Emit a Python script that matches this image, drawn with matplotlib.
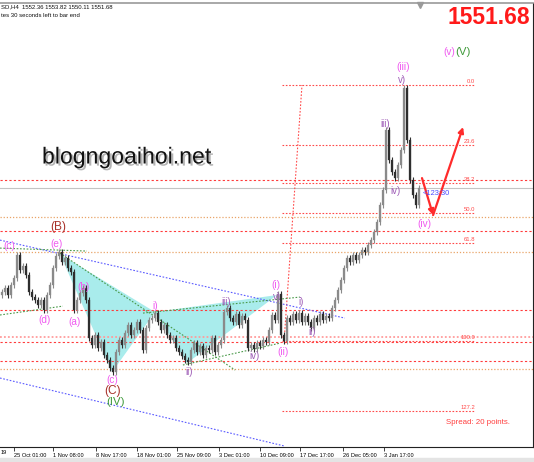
import matplotlib
matplotlib.use('Agg')
import matplotlib.pyplot as plt
import matplotlib.patheffects as pe
from matplotlib import font_manager
import numpy as np

# ---------------- data (XAUUSD H4) ----------------
first_open = 1490.0
closes = [
    1491.9, 1494.2, 1490.2, 1495.9, 1499.9, 1513.2, 1504.6, 1506.9, 1501.7, 1491.9,
    1489.0, 1487.3, 1484.4, 1487.3, 1481.5, 1490.2, 1495.9, 1505.7, 1512.6, 1514.9,
    1509.2, 1511.5, 1505.7, 1503.4, 1481.5, 1487.3, 1491.3, 1494.2, 1487.3, 1465.4,
    1461.4, 1467.1, 1459.6, 1463.1, 1455.6, 1452.7, 1448.1, 1445.8, 1457.4, 1464.3,
    1461.4, 1468.3, 1472.9, 1467.1, 1470.0, 1474.6, 1470.0, 1458.5, 1471.2, 1475.8,
    1476.9, 1479.8, 1474.6, 1470.0, 1472.9, 1467.1, 1464.3, 1465.4, 1459.6, 1457.4,
    1455.1, 1452.7, 1451.6, 1458.5, 1462.5, 1457.4, 1460.8, 1455.6, 1459.6, 1458.5,
    1465.4, 1457.4, 1461.4, 1464.3, 1480.4, 1482.7, 1476.9, 1474.6, 1479.2, 1472.9,
    1478.1, 1475.8, 1459.6, 1461.4, 1459.1, 1462.5, 1460.8, 1464.3, 1463.1, 1470.0,
    1478.7, 1475.8, 1490.7, 1467.1, 1463.7, 1476.9, 1474.6, 1479.2, 1475.8, 1479.8,
    1474.6, 1478.1, 1474.6, 1471.2, 1476.9, 1474.6, 1479.2, 1475.8, 1478.1, 1476.9,
    1482.7, 1487.3, 1493.0, 1498.8, 1505.7, 1511.5, 1509.2, 1513.2, 1510.3, 1513.2,
    1516.1, 1514.9, 1519.0, 1521.8, 1526.4, 1532.2, 1542.0, 1550.6, 1585.2, 1567.9,
    1561.0, 1557.5, 1565.0, 1573.6, 1609.3, 1579.4, 1556.4, 1547.7, 1542.0, 1551.68,
]
current_price = 1551.68

tick_bars = [4, 17, 31.3, 45, 58.3, 72.3, 86, 99.3, 113.7, 127.3]
tick_labels = ["25 Oct 01:00", "1 Nov 08:00", "8 Nov 17:00", "18 Nov 01:00",
               "25 Nov 09:00", "3 Dec 01:00", "10 Dec 09:00", "17 Dec 17:00",
               "26 Dec 05:00", "3 Jan 17:00"]

fib_high = 1611.1
fib_low = 1463.5
fib_levels = [0.0, 23.6, 38.2, 50.0, 61.8, 100.0, 127.2]
fib_names = ["0.0", "23.6", "38.2", "50.0", "61.8", "100.0", "127.2"]

red_levels = [1556.4, 1527.0, 1481.5, 1463.1, 1452.2]
orange_levels = [1535.1, 1514.9, 1447.6]
pink_levels = [1466.0]

# wave labels: (text, bar, price, kind)
wave_labels = [
    ("(B)", 18.7, 1529.3, "brown"), ("(e)", 18.0, 1519.5, "mag"),
    ("(c)", 2.3, 1518.4, "mag"), ("(d)", 14.0, 1475.8, "mag"),
    ("(a)", 24.0, 1474.6, "mag"), ("(b)", 27.3, 1494.8, "mag"),
    ("(c)", 36.7, 1441.0, "mag"), ("(C)", 36.7, 1435.0, "brown"),
    ("(IV)", 37.7, 1428.6, "green"),
    ("i)", 51.0, 1483.8, "mag"), ("ii)", 62.3, 1445.8, "pur"),
    ("iii)", 74.7, 1486.1, "pur"), ("iv)", 84.3, 1455.0, "pur"),
    ("(i)", 91.3, 1495.9, "mag"), ("v)", 91.7, 1489.0, "pur"),
    ("(ii)", 93.7, 1457.4, "mag"), ("i)", 99.7, 1486.1, "pur"),
    ("ii)", 103.3, 1468.9, "pur"), ("iii)", 127.7, 1588.6, "pur"),
    ("iv)", 131.0, 1550.0, "pur"), ("(iii)", 133.7, 1621.4, "mag"),
    ("v)", 133.3, 1614.0, "pur"), ("(iv)", 140.7, 1531.0, "mag"),
    ("(v)", 149.2, 1630.1, "mag"), ("(V)", 153.7, 1630.1, "green"),
]

# trend lines (bar, price) pairs
blue_lines = [((-0.67, 1521.8), (114.3, 1476.9)), ((-0.67, 1442.4), (94.3, 1403.2))]
green_lines = [((-0.67, 1478.7), (20.3, 1483.8)), ((-0.67, 1517.2), (28.3, 1515.5)),
               ((19.3, 1514.3), (77.7, 1447.0)), ((60.3, 1449.9), (92.7, 1462.5)),
               ((47.0, 1479.8), (99.3, 1489.0))]
fib_diag = ((94.0, 1463.1), (100.0, 1611.1))
tri1 = [(19.3, 1513.8), (36.7, 1445.8), (51.0, 1480.4)]
tri2 = [(51.0, 1480.4), (61.7, 1451.0), (91.7, 1490.2)]
arrow_path = [(140.0, 1557.5), (143.7, 1536.2), (153.7, 1586.9)]

# ---------------- fonts ----------------
avail = {f.name for f in font_manager.fontManager.ttflist}
SANS = 'Liberation Sans' if 'Liberation Sans' in avail else 'DejaVu Sans'
plt.rcParams['font.family'] = [SANS, 'DejaVu Sans']

W, H = 534, 462
fig = plt.figure(figsize=(W / 100, H / 100), dpi=100)
fig.patch.set_facecolor('white')
ax = fig.add_axes([0, 15 / H, 533 / W, 444 / H])
ax.set_xlim(-0.667, 177.0)
ax.set_ylim(1402.7, 1658.3)
ax.set_facecolor('white')

# bottom grey strip
fig.patches.append(plt.Rectangle((0, 0), 1, 4 / H, transform=fig.transFigure,
                                 color='#e4e4e4', zorder=0))

# horizontal levels
RED = '#ff3b3b'
for lv in red_levels:
    ax.axhline(lv, color=RED, lw=0.8, dashes=(2, 2), zorder=2)
for lv in orange_levels:
    ax.axhline(lv, color='#e9a468', lw=0.9, dashes=(1, 1.5), zorder=2)
for lv in pink_levels:
    ax.axhline(lv, color='#ff9c9c', lw=1.3, dashes=(1, 1.2), zorder=2)
ax.axhline(current_price, color='#c4c4c4', lw=0.8, zorder=2)

# fibonacci
rng = fib_high - fib_low
for lv, nm in zip(fib_levels, fib_names):
    p = fib_high - rng * lv / 100.0
    ax.plot([93.3, 157.3], [p, p], color='#ff4a4a', lw=0.8, dashes=(1.5, 1.5), zorder=2)
    ax.text(157.7, p + 0.8, nm, color='#ff4a4a', fontsize=4.2, ha='right', va='bottom', zorder=6)
ax.plot([fib_diag[0][0], fib_diag[1][0]], [fib_diag[0][1], fib_diag[1][1]],
        color='#ff4a4a', lw=0.8, dashes=(1.5, 1.5), zorder=2)

# cyan triangles
for tri in (tri1, tri2):
    xs_, ys_ = zip(*tri)
    ax.fill(xs_, ys_, color='#a9ecec', lw=0, zorder=1)

for (a, b) in blue_lines:
    ax.plot([a[0], b[0]], [a[1], b[1]], color='#5a5aff', lw=0.8, dashes=(1.5, 1.5), zorder=2)
for (a, b) in green_lines:
    ax.plot([a[0], b[0]], [a[1], b[1]], color='#4a9a4a', lw=0.8, dashes=(1.5, 1.5), zorder=2)

# candles
opens = [first_open] + closes[:-1]
xs = np.arange(len(closes))
wick = 1.8
for x, o, c in zip(xs, opens, closes):
    lo, hi = min(o, c), max(o, c)
    col = '#8a8a8a' if c >= o else '#2e2e2e'
    ax.vlines(x, lo - wick, hi + wick, color=col, lw=0.8, zorder=3)
    ax.bar(x, max(hi - lo, 0.6), bottom=lo, width=0.85, color=col, edgecolor=col,
           lw=0.2, zorder=4)

# red arrow
ARW = '#ff2b2b'
for p0, p1 in zip(arrow_path[:-1], arrow_path[1:]):
    ax.annotate('', xy=p1, xytext=p0,
                arrowprops=dict(arrowstyle='-|>', color=ARW, lw=1.6,
                                mutation_scale=8, shrinkA=0, shrinkB=0), zorder=7)

# wave labels
colors = {"mag": '#f05af0', "pur": '#a060b8', "brown": '#a8322a', "green": '#3f9a3a'}
sizes = {"mag": 7.2, "pur": 7.0, "brown": 8.6, "green": 8.2}
for txt, bx, py, kind in wave_labels:
    ax.text(bx, py, txt, color=colors[kind], fontsize=sizes[kind], ha='center',
            va='center', zorder=8)

# countdown label
ax.text(140.3, 1548.9, "<123:30", color='#4a4aff', fontsize=5.4, ha='left',
        va='center', zorder=8)

# top gray shift marker
ax.plot([139.3], [1657.3], marker='v', color='#9a9a9a', ms=4, clip_on=False, zorder=9)

# axes styling
ax.spines['left'].set_visible(False)
ax.spines['top'].set_color('#9a9a9a')
ax.spines['top'].set_linewidth(1.2)
ax.spines['right'].set_color('#222222')
ax.spines['right'].set_linewidth(0.8)
ax.spines['bottom'].set_color('#222222')
ax.spines['bottom'].set_linewidth(0.8)
ax.set_yticks([])
ax.set_xticks(tick_bars)
ax.set_xticklabels(tick_labels, fontsize=4.1)
for lab in ax.get_xticklabels():
    lab.set_horizontalalignment('left')
ax.tick_params(axis='x', length=3, width=0.6, pad=1.2, direction='out', color='#222222')
fig.text(0.5 / W, 1 - 452 / H, "19", fontsize=4.1, ha='left', va='center')

# header texts
fig.text(1 / W, 1 - 7 / H, "SD,H4  1552.36 1553.82 1550.11 1551.68", fontsize=4.3,
         ha='left', va='center', color='#111111')
fig.text(1 / W, 1 - 15.5 / H, "tes 30 seconds left to bar end", fontsize=4.3,
         ha='left', va='center', color='#111111')
fig.text(530 / W, 1 - 17 / H, "1551.68", fontsize=16.5, fontweight='bold', color='#ff1a1a',
         ha='right', va='center')
fig.text(42 / W, 1 - 157 / H, "blogngoaihoi.net", fontsize=16.6, color='#111111',
         ha='left', va='center',
         path_effects=[pe.SimplePatchShadow(offset=(1.5, -1.5), shadow_rgbFace='#777777',
                                            alpha=0.55), pe.Normal()])
fig.text(446 / W, 1 - 422.5 / H, "Spread: 20 points.", fontsize=5.7, color='#ff4040',
         ha='left', va='center')

fig.savefig('out.png', dpi=100, facecolor='white')
